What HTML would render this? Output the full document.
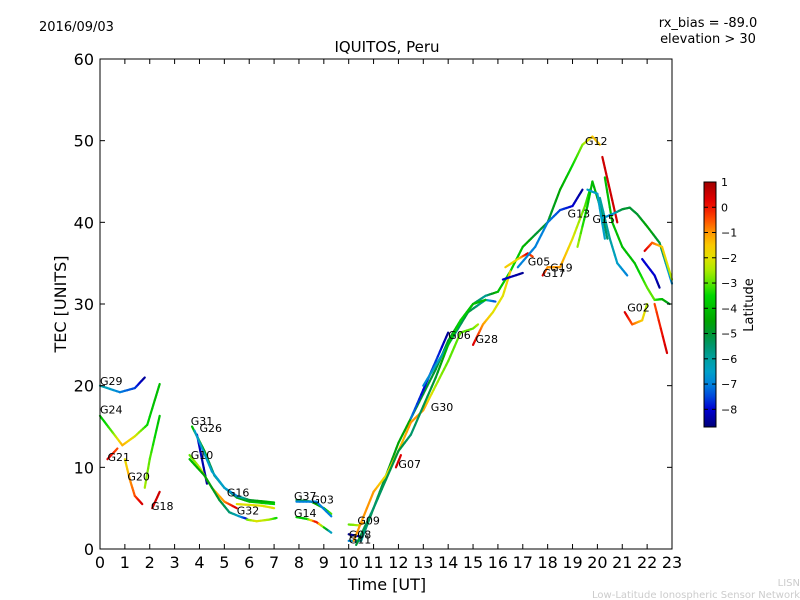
<!DOCTYPE html>
<html><head><meta charset="utf-8"><style>
body{margin:0;background:#fff;}
svg{display:block;font-family:"DejaVu Sans","Liberation Sans",sans-serif;}
</style></head><body>
<svg id="chart" width="800" height="600" viewBox="0 0 800 600">
<defs><linearGradient id="cmap" x1="0" y1="0" x2="0" y2="1"></linearGradient></defs>
<text x="39" y="31" font-size="13">2016/09/03</text>
<text x="708" y="27" font-size="13" text-anchor="middle">rx_bias = -89.0</text>
<text x="708" y="43" font-size="13" text-anchor="middle">elevation &gt; 30</text>
<text x="387" y="52" font-size="15" text-anchor="middle">IQUITOS, Peru</text>
<g id="marks"></g>
<rect x="100" y="59" width="572" height="490" fill="none" stroke="#000" stroke-width="1"/>
<g id="axes"></g>
<text x="387" y="590" font-size="16" text-anchor="middle">Time [UT]</text>
<text transform="translate(66,304) rotate(-90)" font-size="16" text-anchor="middle">TEC [UNITS]</text>
<rect x="704" y="182" width="12" height="245" fill="url(#cmap)" stroke="#000" stroke-width="1"/>
<g id="cbticks"></g>
<text transform="translate(753,305) rotate(-90)" font-size="13" text-anchor="middle">Latitude</text>
<text x="800" y="586" font-size="10" fill="#ccc" text-anchor="end">LISN</text>
<text x="800" y="598" font-size="10" fill="#ccc" text-anchor="end">Low-Latitude Ionospheric Sensor Network</text>
</svg>
<script>
const xTicks=[0,1,2,3,4,5,6,7,8,9,10,11,12,13,14,15,16,17,18,19,20,21,22,23];
const yTicks=[0,10,20,30,40,50,60];
const cbTicks=[1,0,-1,-2,-3,-4,-5,-6,-7,-8];
const latMin=-8.7, latMax=1;
// each track: [time, tec, latitude]
const tracks=[
[[0,20.0,-6],[0.8,19.2,-7],[1.4,19.7,-7.5],[1.8,21,-8.5]],
[[0,16.3,-4],[0.5,14.3,-3],[0.9,12.7,-1.2],[1.4,13.8,-2],[1.9,15.2,-3.5],[2.2,18.2,-4],[2.4,20.2,-4]],
[[0.3,11,0.5],[0.7,12.3,-0.5]],
[[1.0,11,-2],[1.2,8.5,-1],[1.4,6.5,-0.5],[1.7,5.5,0.5]],
[[1.8,7.5,-2.5],[2.0,11,-3],[2.4,16.3,-4]],
[[2.1,5.0,0.5],[2.4,7.0,0.5]],
[[3.7,15,-4],[4.2,12,-4.5],[4.6,9,-5.5],[5,7.5,-6],[5.5,6.3,-5],[6,5.8,-4],[7,5.5,-3.5]],
[[3.9,14,-8],[4.3,8,-8.5]],
[[3.8,14.5,-6.5],[4.5,9.5,-6.5],[5,7.5,-6.5],[5.5,6.5,-7],[6,6,-5],[7,5.7,-4]],
[[3.6,11.5,-3],[4,10,-2.5],[4.5,7.5,-1.5],[5,5.8,-1],[5.5,5,0.5]],
[[3.6,11,-4],[4.2,9,-4.5],[4.8,6,-5],[5.2,4.5,-5.5],[5.6,4,-6.5],[5.9,3.7,-8]],
[[5.9,3.6,-3],[6.3,3.4,-2],[6.8,3.6,-2.5],[7.1,3.8,-3.5]],
[[5.5,5.5,-2],[6.5,5.3,-2],[7,5,-2]],
[[7.9,6,-5],[8.5,5.8,-4.5],[9,5,-4],[9.3,4.3,-3]],
[[7.9,5.8,-7],[8.7,5.8,-7],[9.3,4,-7]],
[[7.9,3.9,-3.5],[8.3,3.7,-4],[8.7,3.3,0.5],[9.3,2,-7]],
[[10,3,-3],[10.4,2.9,-2.5],[10.6,3.2,-1]],
[[10,1.8,-8.5],[10.5,1.5,-8]],
[[10,1,-7],[10.5,1,-6],[11,5,-5],[11.5,9,-5],[12,13,-4.5],[12.5,16,-4.5],[13,19,-5],[13.5,22,-5],[14,25.5,-5],[14.5,28,-4.5],[15,30,-5],[15.5,31,-6],[16,31.5,-4],[16.5,34,-3.5],[17,37,-4],[17.5,38.5,-5],[18,40,-5],[18.5,44,-4.5],[19,47,-3.5],[19.4,49.5,-2.8],[19.8,50.5,-1.5],[20.1,49.5,-1.5]],
[[20.2,48,0.5],[20.5,44,0.5],[20.8,40,0.5]],
[[12.5,16,-7],[13,19.5,-8],[13.5,23,-7.5],[14,26.5,-8.5]],
[[10.2,1,-1],[11,7,-1],[11.5,9,-2],[12,12,-1.5],[12.5,15.5,-1],[13,17,-1],[13.5,20,-2.5],[14,23,-3],[14.5,26.5,-3],[15,27,-3],[15.2,27.5,-2.5]],
[[15,25,0.5],[15.4,27.5,-1],[15.8,29,-2],[16.2,31,-2],[16.5,34,-1.5]],
[[13,20,-7],[14,25,-6],[14.8,29,-5],[15.5,30.5,-6],[15.9,30.3,-7.5]],
[[10.3,0.5,-5],[11,5,-5.5],[12,12,-5],[12.5,14,-5.5],[13.5,21,-5],[14,25,-4],[14.5,28,-3.5],[15,30,-4],[15.5,30.5,-4]],
[[11.9,10,0.5],[12.1,11.5,0.3]],
[[16.2,33,-8],[17,33.8,-8.5]],
[[16.3,34.5,-1.5],[16.8,35.5,-2],[17.2,36.2,0.5],[17.4,35.8,-0.5]],
[[16.8,34.5,-7],[17.5,37,-7],[18,40,-7],[18.5,41.5,-7.5],[19,42,-8],[19.4,44,-8.5]],
[[17.8,33.5,0.5],[18,34.5,-1],[18.5,34.5,-1],[19,38,-2],[19.5,42,-3],[19.7,44,-3.5]],
[[19.2,37,-2.5],[19.6,42,-4],[19.8,45,-4],[20.2,41,-5],[20.4,38,-5.5]],
[[19.6,44,-6.5],[20,43.5,-6.5],[20.3,38,-6.5]],
[[20.3,45.5,-4],[20.6,40,-4],[21,37,-4],[21.5,35,-4],[22,32,-3],[22.3,30.5,-3],[22.6,30.6,-4],[22.9,30,-5]],
[[20.2,40.5,-6.5],[20.6,41,-7],[21,41.6,-5],[21.3,41.8,-5],[21.6,41,-5],[22,39.5,-4.5],[22.5,37.5,-5],[23,32.5,-7]],
[[20.1,43,-6],[20.5,38,-6],[20.8,35,-6.5],[21.2,33.5,-7]],
[[21.1,29,0.5],[21.4,27.5,-0.5],[21.8,28,-1.5],[22,30,-2.5]],
[[22.3,30,-0.5],[22.8,24,0.5]],
[[21.8,35.5,-8],[22.3,33.5,-8],[22.5,32,-8.5]],
[[21.9,36.5,0.5],[22.2,37.5,-0.5],[22.6,37,-1.5],[23,33,-2.5]]
];
const labels=["G29","G24","G21","G20","G18","G31","G26","G10","G16","G32","G37","G03","G14","G09","G11","G07","G30","G06","G28","G05","G19","G17","G13","G12","G15","G02","G08"];
const labelPos=[[0,20.1],[0,16.6],[0.3,10.8],[1.1,8.4],[2.05,4.8],[3.65,15.2],[4,14.3],[3.65,11.0],[5.1,6.4],[5.5,4.2],[7.8,6.0],[8.5,5.6],[7.8,3.9],[10.35,3.0],[10,0.7],[12,9.9],[13.3,16.9],[14,25.7],[15.1,25.2],[17.2,34.7],[18.1,34.0],[17.8,33.3],[18.8,40.6],[19.5,49.5],[19.8,39.9],[21.2,29.1],[10,1.3]];
// colormap stops: [latitude, rgb]
const cmapLat=[1,0.3,0,-0.5,-1,-1.5,-2,-2.5,-3,-3.5,-4,-4.5,-5,-5.5,-6,-6.5,-7,-7.5,-8,-8.7];
const cmapCol=[[160,0,0],[225,0,0],[240,20,0],[255,80,0],[255,150,0],[250,200,0],[225,225,0],[170,235,0],[90,230,0],[0,215,0],[0,190,0],[0,165,0],[0,150,50],[0,150,110],[0,160,160],[0,160,200],[0,130,220],[0,70,220],[0,0,210],[0,0,120]];
const X=t=>100+t*572/23, Y=v=>549-v*490/60;
const NS="http://www.w3.org/2000/svg";
function col(lat){lat=Math.max(latMin,Math.min(latMax,lat));
 for(let i=0;i<cmapLat.length-1;i++){if(lat<=cmapLat[i]&&lat>=cmapLat[i+1]){
  const f=(cmapLat[i]-lat)/(cmapLat[i]-cmapLat[i+1]);const a=cmapCol[i],b=cmapCol[i+1];
  return `rgb(${Math.round(a[0]+(b[0]-a[0])*f)},${Math.round(a[1]+(b[1]-a[1])*f)},${Math.round(a[2]+(b[2]-a[2])*f)})`;}}
 return 'rgb(0,0,120)';}
const grad=document.getElementById('cmap');
cmapLat.forEach((l,i)=>{const s=document.createElementNS(NS,'stop');
 s.setAttribute('offset',(latMax-l)/(latMax-latMin));s.setAttribute('stop-color',`rgb(${cmapCol[i].join(',')})`);grad.appendChild(s);});
const g=document.getElementById('marks');
tracks.forEach((tr,ti)=>{
 const grp=document.createElementNS(NS,'g');
 
 
 for(let i=0;i<tr.length-1;i++){
  const a=tr[i],b=tr[i+1];const n=6;
  for(let k=0;k<n;k++){
   const f0=k/n,f1=(k+1)/n,fm=(k+0.5)/n;
   const l=document.createElementNS(NS,'line');
   l.setAttribute('x1',X(a[0]+(b[0]-a[0])*f0));l.setAttribute('y1',Y(a[1]+(b[1]-a[1])*f0));
   l.setAttribute('x2',X(a[0]+(b[0]-a[0])*f1));l.setAttribute('y2',Y(a[1]+(b[1]-a[1])*f1));
   l.setAttribute('stroke',col(a[2]+(b[2]-a[2])*fm));l.setAttribute('stroke-width','2.2');
   l.setAttribute('stroke-linecap','round');
   
   
   grp.appendChild(l);}
 }
 g.appendChild(grp);
});
labels.forEach((s,i)=>{const t=document.createElementNS(NS,'text');
 t.setAttribute('x',X(labelPos[i][0]));t.setAttribute('y',Y(labelPos[i][1]));
 t.setAttribute('font-size','11');t.textContent=s;
 
 
 g.appendChild(t);});
const ax=document.getElementById('axes');
xTicks.forEach(v=>{const x=X(v);
 ax.insertAdjacentHTML('beforeend',`<line x1="${x}" y1="549" x2="${x}" y2="544" stroke="#000"/><line x1="${x}" y1="59" x2="${x}" y2="64" stroke="#000"/><text x="${x}" y="568" font-size="16" text-anchor="middle">${v}</text>`);});
yTicks.forEach(v=>{const y=Y(v);
 ax.insertAdjacentHTML('beforeend',`<line x1="100" y1="${y}" x2="105" y2="${y}" stroke="#000"/><line x1="672" y1="${y}" x2="667" y2="${y}" stroke="#000"/><text x="94" y="${y+6}" font-size="16" text-anchor="end">${v}</text>`);});
const cb=document.getElementById('cbticks');
cbTicks.forEach(v=>{const y=182+(latMax-v)/(latMax-latMin)*245;
 cb.insertAdjacentHTML('beforeend',`<line x1="704" y1="${y}" x2="708" y2="${y}" stroke="#000"/><line x1="716" y1="${y}" x2="712" y2="${y}" stroke="#000"/><text x="721" y="${y+4}" font-size="11">${v===0?'0':(v<0?'\u2212'+(-v):v)}</text>`);});
</script>
</body></html>
